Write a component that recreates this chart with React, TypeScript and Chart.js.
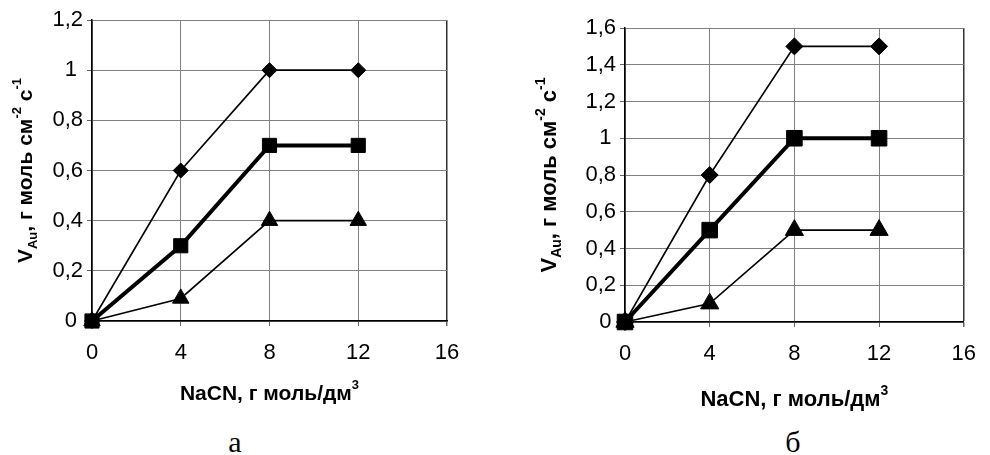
import React, { useEffect, useRef } from "react";
import { Chart, registerables } from "chart.js";

Chart.register(...registerables);

// ---- data ----
const xValues = [0, 4, 8, 12];
const xAxisMin = 0;
const xAxisMax = 16;
const xAxisStep = 4;
const yAxisStep = 0.2;

const yAxisMaxA = 1.2;
const diamondA = [0, 0.6, 1, 1];
const squareA = [0, 0.3, 0.7, 0.7];
const triangleA = [0, 0.09, 0.4, 0.4];

const yAxisMaxB = 1.6;
const diamondB = [0, 0.8, 1.5, 1.5];
const squareB = [0, 0.5, 1, 1];
const triangleB = [0, 0.1, 0.5, 0.5];

const panelLabels = ["а", "б"];

type Seg = { t: string; s?: "sub" | "sup" };
const xTitleParts: Seg[] = [{ t: "NaCN, г моль/дм" }, { t: "3", s: "sup" }];
const yTitleParts: Seg[] = [
  { t: "V" },
  { t: "Au", s: "sub" },
  { t: ", г моль см" },
  { t: "-2", s: "sup" },
  { t: " с" },
  { t: "-1", s: "sup" },
];

const SANS = '"Liberation Sans", Arial, sans-serif';

function fmt(v: number, intSuffix: string): string {
  const r = Math.round(v * 10) / 10;
  const s = String(r).replace(".", ",");
  return Number.isInteger(r) ? s + intSuffix : s;
}

function drawRich(
  ctx: CanvasRenderingContext2D,
  parts: Seg[],
  size: number,
  cx: number,
  cy: number,
  rotate: boolean
) {
  ctx.save();
  ctx.translate(cx, cy);
  if (rotate) ctx.rotate(-Math.PI / 2);
  const small = Math.round(size * 0.62);
  const fMain = `bold ${size}px ${SANS}`;
  const fSmall = `bold ${small}px ${SANS}`;
  const widths = parts.map((p) => {
    ctx.font = p.s ? fSmall : fMain;
    return ctx.measureText(p.t).width;
  });
  const total = widths.reduce((a, b) => a + b, 0);
  let x = -total / 2;
  ctx.textBaseline = "alphabetic";
  ctx.textAlign = "left";
  ctx.fillStyle = "#000";
  const base = (size * 0.716) / 2;
  parts.forEach((p, i) => {
    ctx.font = p.s ? fSmall : fMain;
    const dy = p.s === "sub" ? size * 0.25 : p.s === "sup" ? -size * 0.48 : 0;
    ctx.fillText(p.t, x, base + dy);
    x += widths[i];
  });
  ctx.restore();
}

type PanelCfg = {
  left: number;
  width: number;
  height: number;
  area: { left: number; right: number; top: number; bottom: number };
  yMax: number;
  diamond: number[];
  square: number[];
  triangle: number[];
  rDiamond: number;
  rSquare: number;
  rTriangle: number;
  tickSize: number;
  intSuffix: string;
  titleSize: number;
  yTitleDx: number;
  xTitleDy: number;
};

const panelA: PanelCfg = {
  left: 0,
  width: 480,
  height: 420,
  area: { left: 92, right: 447, top: 20, bottom: 321 },
  yMax: yAxisMaxA,
  diamond: diamondA,
  square: squareA,
  triangle: triangleA,
  rDiamond: 7.5,
  rSquare: 10,
  rTriangle: 9.5,
  tickSize: 22,
  intSuffix: " ",
  titleSize: 21,
  yTitleDx: -68,
  xTitleDy: 71,
};

const panelB: PanelCfg = {
  left: 480,
  width: 510,
  height: 420,
  area: { left: 145, right: 497, top: 28, bottom: 322 },
  yMax: yAxisMaxB,
  diamond: diamondB,
  square: squareB,
  triangle: triangleB,
  rDiamond: 8.5,
  rSquare: 11,
  rTriangle: 10.5,
  tickSize: 22,
  intSuffix: "\u2009",
  titleSize: 22,
  yTitleDx: -77,
  xTitleDy: 76,
};

function Panel({ cfg }: { cfg: PanelCfg }) {
  const ref = useRef<HTMLCanvasElement | null>(null);
  useEffect(() => {
    if (!ref.current) return;
    const a = cfg.area;
    const titlePlugin = {
      id: "richTitles",
      afterDraw(chart: any) {
        const ctx = chart.ctx as CanvasRenderingContext2D;
        const ca = chart.chartArea;
        drawRich(ctx, xTitleParts, cfg.titleSize, (ca.left + ca.right) / 2, ca.bottom + cfg.xTitleDy, false);
        drawRich(ctx, yTitleParts, cfg.titleSize, ca.left + cfg.yTitleDx, (ca.top + ca.bottom) / 2, true);
      },
    };
    const mk = (vals: number[]) => xValues.map((x, i) => ({ x, y: vals[i] }));
    const chart = new Chart(ref.current, {
      type: "line",
      data: {
        datasets: [
          {
            data: mk(cfg.diamond),
            borderColor: "#000",
            backgroundColor: "#000",
            borderWidth: 1.6,
            pointStyle: "rectRot",
            pointRadius: cfg.rDiamond,
            pointBorderWidth: 1,
            clip: false as any,
          },
          {
            data: mk(cfg.square),
            borderColor: "#000",
            backgroundColor: "#000",
            borderWidth: 4,
            pointStyle: "rect",
            pointRadius: cfg.rSquare,
            pointBorderWidth: 1,
            clip: false as any,
          },
          {
            data: mk(cfg.triangle),
            borderColor: "#000",
            backgroundColor: "#000",
            borderWidth: 1.6,
            pointStyle: "triangle",
            pointRadius: cfg.rTriangle,
            pointBorderWidth: 1,
            clip: false as any,
          },
        ],
      },
      options: {
        responsive: false,
        animation: false,
        layout: {
          padding: { left: 0, top: a.top, right: cfg.width - a.right, bottom: 0 },
        },
        plugins: { legend: { display: false }, tooltip: { enabled: false } },
        scales: {
          x: {
            type: "linear",
            min: xAxisMin,
            max: xAxisMax,
            ticks: {
              stepSize: xAxisStep,
              color: "#000",
              font: { family: SANS, size: cfg.tickSize },
              padding: 14,
              maxRotation: 0,
            },
            grid: {
              color: (c: any) => (c.tick && c.tick.value === xAxisMax ? "#333" : "#808080"),
              lineWidth: (c: any) => (c.tick && c.tick.value === xAxisMax ? 1.5 : 1),
              tickColor: "#666",
              tickLength: 5,
            },
            border: { color: "#000", width: 1.5 },
            afterFit: (s: any) => {
              s.height = cfg.height - a.bottom;
            },
          },
          y: {
            type: "linear",
            min: 0,
            max: cfg.yMax,
            ticks: {
              stepSize: yAxisStep,
              color: "#000",
              font: { family: SANS, size: cfg.tickSize },
              padding: 4,
              callback: (v: any) => fmt(Number(v), cfg.intSuffix),
            },
            grid: { color: "#808080", lineWidth: 1, tickColor: "#666", tickLength: 5 },
            border: { color: "#000", width: 1.5 },
            afterFit: (s: any) => {
              s.width = a.left;
            },
          },
        },
      },
      plugins: [titlePlugin],
    });
    return () => chart.destroy();
  }, [cfg]);
  return (
    <canvas
      ref={ref}
      width={cfg.width}
      height={cfg.height}
      style={{ position: "absolute", left: cfg.left, top: 0, width: cfg.width, height: cfg.height }}
    />
  );
}

export default function App() {
  const cap: React.CSSProperties = {
    position: "absolute",
    top: 427,
    width: 60,
    textAlign: "center",
    font: '30px "Liberation Serif", "Times New Roman", serif',
    lineHeight: "30px",
    color: "#000",
  };
  return (
    <div style={{ position: "absolute", left: 0, top: 0, width: 990, height: 455, background: "#fff", overflow: "hidden" }}>
      <Panel cfg={panelA} />
      <Panel cfg={panelB} />
      <div style={{ ...cap, left: 235 - 30 }}>{panelLabels[0]}</div>
      <div style={{ ...cap, left: 793 - 30 }}>{panelLabels[1]}</div>
    </div>
  );
}
